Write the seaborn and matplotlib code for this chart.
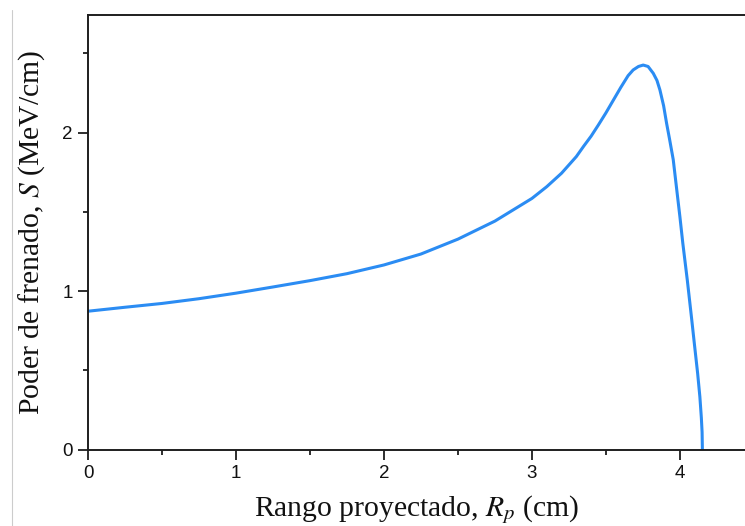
"""Stopping power (Bragg curve) vs projected range."""

import matplotlib

matplotlib.use("Agg")
import matplotlib.pyplot as plt
import seaborn as sns
from matplotlib.lines import Line2D
from matplotlib.ticker import MultipleLocator

# Values
rango_cm = [
    0.0, 0.25, 0.5, 0.75, 1.0, 1.25, 1.5, 1.75, 2.0, 2.25, 2.5, 2.75,
    3.0, 3.1, 3.2, 3.3, 3.35, 3.4, 3.45, 3.5, 3.55, 3.6, 3.65, 3.684,
    3.72, 3.752, 3.785, 3.82, 3.845, 3.865, 3.89, 3.91, 3.93, 3.955,
    3.98, 4.0, 4.02, 4.05, 4.08, 4.1, 4.12, 4.135, 4.145, 4.15, 4.152,
]
poder_frenado = [
    0.873, 0.898, 0.922, 0.952, 0.987, 1.026, 1.066, 1.110, 1.165, 1.234, 1.328, 1.442,
    1.585, 1.659, 1.744, 1.849, 1.915, 1.978, 2.05, 2.125, 2.205, 2.285, 2.36, 2.396,
    2.418, 2.427, 2.418, 2.375, 2.33, 2.27, 2.17, 2.06, 1.96, 1.83,
    1.63, 1.47, 1.30, 1.07, 0.82, 0.649, 0.48, 0.333, 0.20, 0.11, 0.0,
]

LINE_COLOR = "#2b8cf3"
AXIS_COLOR = "#1e1e1e"

sns.set_theme(style="ticks")
plt.rcParams["font.family"] = ["Liberation Sans", "DejaVu Sans"]
plt.rcParams["mathtext.fontset"] = "stix"

fig = plt.figure(figsize=(7.45, 5.26), dpi=100)
ax = fig.add_axes([88 / 745, 1 - 449.5 / 526, 1 - 88 / 745, (449.5 - 15) / 526])

sns.lineplot(x=rango_cm, y=poder_frenado, sort=False, color=LINE_COLOR,
             linewidth=2.2, ax=ax)

ax.set_xlim(0, 4.44)
ax.set_ylim(0, 2.743)
ax.xaxis.set_major_locator(MultipleLocator(1))
ax.xaxis.set_minor_locator(MultipleLocator(0.5))
ax.yaxis.set_major_locator(MultipleLocator(1))
ax.yaxis.set_minor_locator(MultipleLocator(0.5))
ax.tick_params(which="major", direction="out", length=7, width=1.3,
               color=AXIS_COLOR, labelsize=13.5, labelcolor="#111111", pad=4)
ax.tick_params(which="minor", direction="out", length=3.8, width=1.3,
               color=AXIS_COLOR)

for side in ("left", "bottom", "top"):
    ax.spines[side].set_linewidth(1.4)
    ax.spines[side].set_color(AXIS_COLOR)
ax.spines["right"].set_visible(False)

serif = ["Liberation Serif", "DejaVu Serif"]
ax.set_xlabel(r"Rango proyectado, $R_p$ (cm)", fontsize=21.3, family=serif,
              color="#111111", labelpad=8)
ax.set_ylabel(r"Poder de frenado, $S$ (MeV/cm)", fontsize=21.3, family=serif,
              color="#111111", labelpad=11)

# faint border line at the left edge of the original screenshot
fig.add_artist(Line2D([12 / 745, 12 / 745], [0, 1 - 10 / 526],
                      transform=fig.transFigure, color="#cccccc", linewidth=0.8))

fig.savefig("out.png", dpi=100)
